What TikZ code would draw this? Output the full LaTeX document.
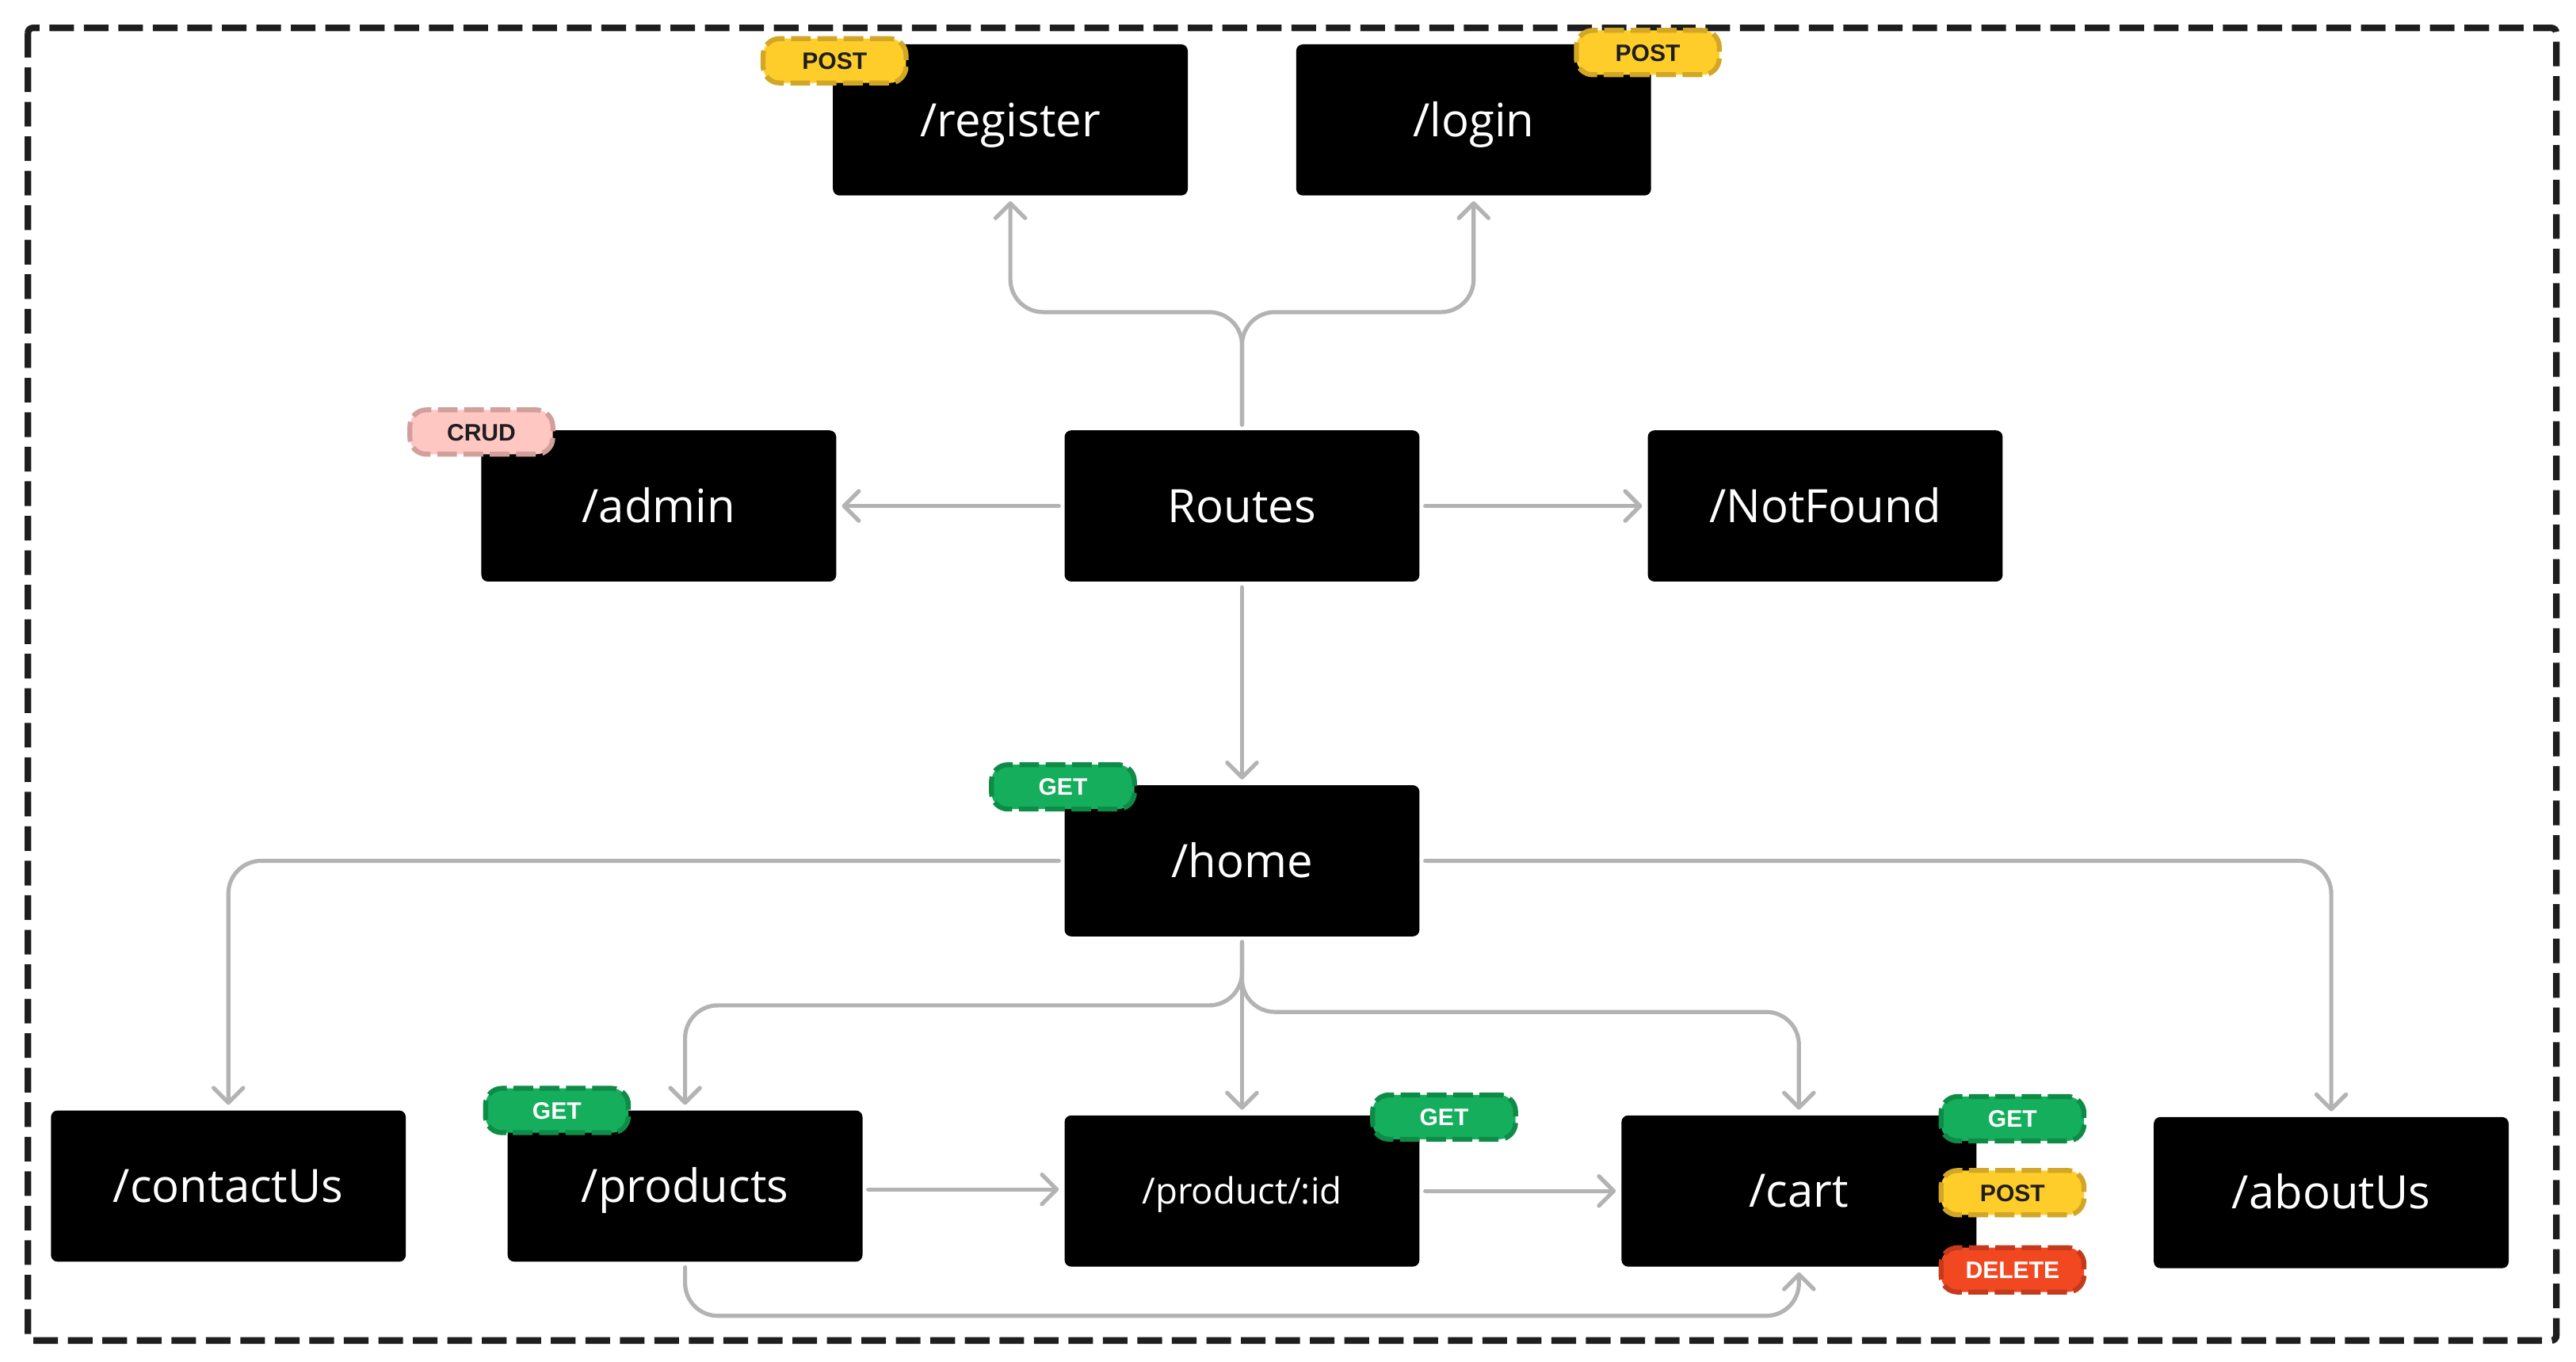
\documentclass[tikz,border=0pt]{standalone}
\usepackage{fontspec}
\usetikzlibrary{arrows.meta}
\newfontfamily\rfont{Open Sans}
\newfontfamily\bfont{Liberation Sans}
\definecolor{postfill}{HTML}{FFCD29}
\definecolor{postdraw}{HTML}{D2A626}
\definecolor{getfill}{HTML}{14AE5C}
\definecolor{getdraw}{HTML}{0F8B48}
\definecolor{delfill}{HTML}{F24822}
\definecolor{deldraw}{HTML}{C43A1D}
\definecolor{crudfill}{HTML}{FFC7C2}
\definecolor{cruddraw}{HTML}{D1A09C}
\definecolor{linegray}{HTML}{B3B3B3}
\definecolor{framecol}{HTML}{1E1E1E}
\definecolor{txtdark}{HTML}{1E1E1E}
\tikzset{
  route/.style={fill=black, rounded corners=4pt, minimum width=216pt, minimum height=92pt,
    text=white, font=\rfont\fontsize{28}{32}\selectfont, inner sep=0pt, outer sep=3.5pt,
    text height=20pt, text depth=0pt},
  small/.style={font=\rfont\fontsize{22}{26}\selectfont, text height=15.7pt, text depth=0pt},
  badge/.style={rounded corners=10pt, minimum width=87pt, minimum height=27pt, line width=3pt,
    dash pattern=on 12pt off 4pt, font=\bfont\bfseries\fontsize{14.5}{16}\selectfont, inner sep=0pt,
    text height=10.4pt, text depth=0pt},
  postb/.style={badge, fill=postfill, draw=postdraw, text=txtdark},
  getb/.style={badge, fill=getfill, draw=getdraw, text=white},
  delb/.style={badge, fill=delfill, draw=deldraw, text=white},
  crudb/.style={badge, fill=crudfill, draw=cruddraw, text=txtdark},
  conn/.style={draw=linegray, line width=2.5pt, rounded corners=20pt, line cap=round,
    -{Straight Barb[length=9pt,width=18pt,line cap=round,line join=round]}},
}
\begin{document}
\begin{tikzpicture}[x=1pt,y=-1pt]
\useasboundingbox (0,0) rectangle (1568,829);
\draw[line width=4pt, color=framecol, dash pattern=on 15pt off 6pt, rounded corners=3pt] (17,17) rectangle (1556,816);

% route boxes
\node[route] (register) at (615,73) {/register};
\node[route] (login) at (897,73) {/login};
\node[route] (admin) at (401,308) {/admin};
\node[route] (routes) at (756,308) {Routes};
\node[route] (notfound) at (1111,308) {/NotFound};
\node[route] (home) at (756,524) {/home};
\node[route] (contact) at (139,722) {/contactUs};
\node[route] (products) at (417,722) {/products};
\node[route, small] (pid) at (756,725) {/product/:id};
\node[route] (cart) at (1095,725) {/cart};
\node[route] (about) at (1419,726) {/aboutUs};

% helper coordinates
\coordinate (topsplit) at (756,190);
\coordinate (leftsplit) at (756,612);
\coordinate (rightsplit) at (756,616);
\coordinate (bottomrun) at (417,801);

% connectors
\draw[conn] (routes.north) -- (topsplit) -| (register.south);
\draw[conn] (routes.north) -- (topsplit) -| (login.south);
\draw[conn] (routes.west) -- (admin.east);
\draw[conn] (routes.east) -- (notfound.west);
\draw[conn] (routes.south) -- (home.north);
\draw[conn] (home.west) -| (contact.north);
\draw[conn] (home.east) -| (about.north);
\draw[conn] (home.south) -- (leftsplit) -| (products.north);
\draw[conn] (home.south) -- (pid.north);
\draw[conn] (home.south) -- (rightsplit) -| (cart.north);
\draw[conn] ([yshift=-2pt]products.east) -- ([yshift=-2pt]products.east -| pid.west);
\draw[conn] (pid.east) -- (cart.west);
\draw[conn] (products.south) -- (bottomrun) -| (cart.south);

% badges
\node[postb] (regpost) at (508,37) {POST};
\node[postb] (loginpost) at (1003,32) {POST};
\node[crudb] (admincrud) at (293,263) {CRUD};
\node[getb] (homeget) at (647,479) {GET};
\node[getb] (prodget) at (339,676) {GET};
\node[getb] (pidget) at (879,680) {GET};
\node[getb] (cartget) at (1225,681) {GET};
\node[postb] (cartpost) at (1225,726) {POST};
\node[delb] (cartdel) at (1225,773) {DELETE};
\end{tikzpicture}
\end{document}
